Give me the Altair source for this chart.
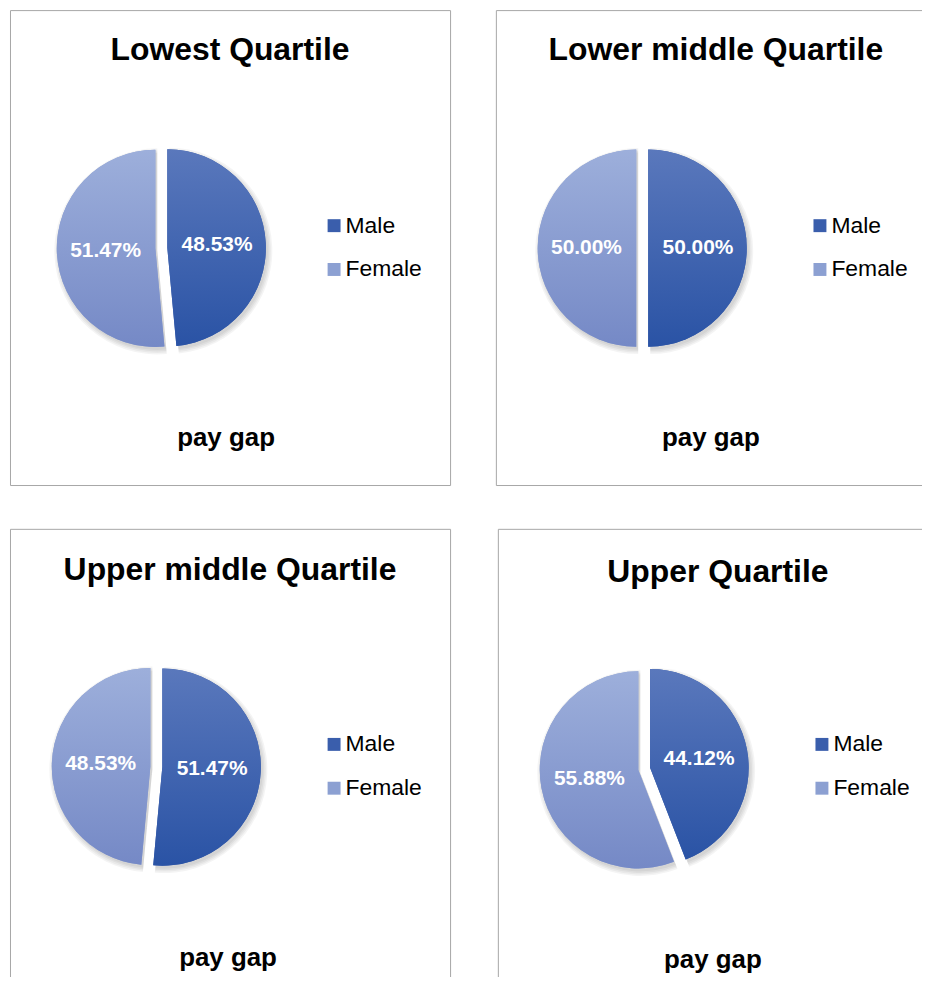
import math
import altair as alt
import pandas as pd

# ---------------- data ----------------
quartiles = ["Lowest Quartile", "Lower middle Quartile", "Upper middle Quartile", "Upper Quartile"]
genders = ["Male", "Female"]
male_share = [48.53, 50.00, 51.47, 44.12]
female_share = [51.47, 50.00, 48.53, 55.88]
footer_text = "pay gap"

# ---------------- style / layout ----------------
FONT = "Liberation Sans"
PANEL_W, PANEL_H = 442, 477
PIE_CX = [152, 147, 147, 147]
PIE_CY = [239, 239, 239, 241]
TITLE_OFFSET = [-57, -57, -58, -60]
FOOT_X = [217, 216, 219, 216]
FOOT_Y = [438, 438, 439, 441]
RADIUS = 99
EXPLODE = 6
LABEL_R = 50
LEGEND_COLORS = ["#3A5EAC", "#8CA0D2"]
MALE_GRAD = {"gradient": "linear", "x1": 0, "y1": 0, "x2": 0, "y2": 1,
             "stops": [{"offset": 0, "color": "#5A78BC"}, {"offset": 1, "color": "#2A53A5"}]}
FEMALE_GRAD = {"gradient": "linear", "x1": 0, "y1": 0, "x2": 0, "y2": 1,
               "stops": [{"offset": 0, "color": "#9DAFDB"}, {"offset": 1, "color": "#7589C6"}]}

rows = []
for q, m, f in zip(quartiles, male_share, female_share):
    for k, (g, v) in enumerate(zip(genders, [m, f])):
        rows.append({"quartile": q, "gender": g, "value": v, "order": k})
df = pd.DataFrame(rows)

theta_scale = alt.Scale(domain=[0, 1], range=[0, 2 * math.pi])


def panel(i):
    q = quartiles[i]
    cx, cy = PIE_CX[i], PIE_CY[i]
    base = (
        alt.Chart(df)
        .transform_filter(alt.datum.quartile == q)
        .transform_joinaggregate(total="sum(value)")
        .transform_window(cum="sum(value)", sort=[alt.SortField("order")], frame=[None, 0])
        .transform_calculate(
            s="(datum.cum - datum.value) / datum.total",
            e="datum.cum / datum.total",
            m="(datum.cum - datum.value / 2) / datum.total",
        )
        .transform_calculate(
            px=f"{cx} + {EXPLODE} * sin(2 * PI * datum.m)",
            py=f"{cy} - {EXPLODE} * cos(2 * PI * datum.m)",
            label="format(datum.value, '.2f') + '%'",
        )
    )
    pos = dict(
        x=alt.X("px:Q", scale=None, axis=None),
        y=alt.Y("py:Q", scale=None, axis=None),
    )
    arc_enc = dict(theta=alt.Theta("s:Q", stack=None, scale=theta_scale), theta2="e:Q", **pos)

    shadows = [
        base.mark_arc(radius=RADIUS + k, fill="black", opacity=0.045, xOffset=2, yOffset=3).encode(**arc_enc)
        for k in (0, 1.5, 3, 4.5)
    ]
    solid = base.mark_arc(radius=RADIUS).encode(
        color=alt.Color(
            "gender:N",
            scale=alt.Scale(domain=genders, range=LEGEND_COLORS),
            legend=alt.Legend(
                orient="none", legendX=314, legendY=205, direction="vertical", title=None,
                symbolType="square", symbolSize=169, symbolStrokeWidth=0, symbolOpacity=1,
                labelFont=FONT, labelFontSize=23, labelColor="black", rowPadding=20, labelOffset=0,
            ),
        ),
        **arc_enc,
    )
    grad = base.mark_arc(radius=RADIUS).encode(
        fill={"condition": {"test": "datum.gender === 'Male'", "value": MALE_GRAD}, "value": FEMALE_GRAD},
        **arc_enc,
    )
    labels = base.mark_text(
        radius=LABEL_R, font=FONT, fontSize=21, fontWeight="bold", color="white"
    ).encode(theta=alt.Theta("m:Q", stack=None, scale=theta_scale), text="label:N", **pos)

    foot = alt.Chart(pd.DataFrame({"t": [footer_text]})).mark_text(
        font=FONT, fontSize=26, fontWeight="bold", color="black", align="center", baseline="alphabetic"
    ).encode(text="t:N", x=alt.value(FOOT_X[i]), y=alt.value(FOOT_Y[i]))

    return alt.layer(*shadows, solid, grad, labels, foot).properties(
        width=PANEL_W,
        height=PANEL_H,
        title=alt.TitleParams(q, font=FONT, fontSize=32, fontWeight="bold", color="black",
                              anchor="middle", offset=TITLE_OFFSET[i]),
    )


top = alt.hconcat(panel(0), panel(1), spacing=44).resolve_scale(color="independent").resolve_legend(color="independent")
bottom = alt.hconcat(panel(2), panel(3), spacing=46).resolve_scale(color="independent").resolve_legend(color="independent")
chart = (
    alt.vconcat(top, bottom, spacing=42)
    .resolve_scale(color="independent")
    .resolve_legend(color="independent")
    .properties(padding={"left": 1, "top": -1, "right": -17, "bottom": -30}, background="white")
    .configure_view(stroke="#A6A6A6", strokeWidth=1)
)

chart.save("out.html", embed_options={"renderer": "svg", "actions": False})
